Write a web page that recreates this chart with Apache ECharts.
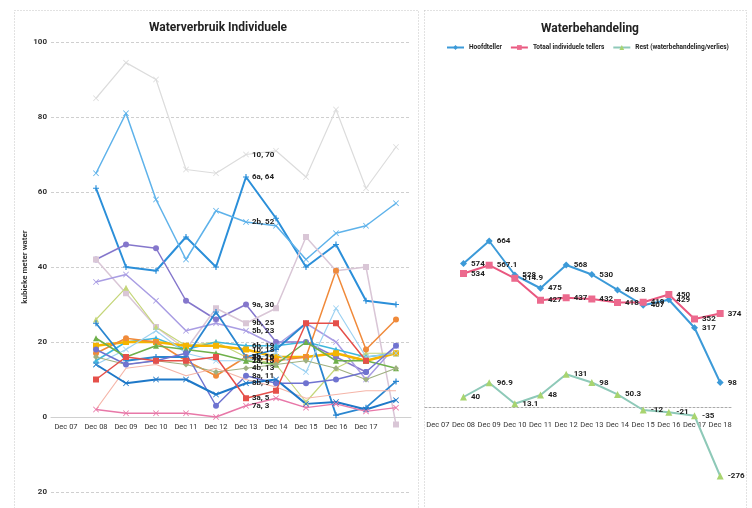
<!DOCTYPE html>
<html lang="nl">
<head>
<meta charset="UTF-8">
<title>Waterverbruik</title>
<script src="https://cdn.jsdelivr.net/npm/echarts@6/dist/echarts.min.js"></script>
<style>
  body { margin: 0; background: #fff; }
</style>
</head>
<body>
<div id="main" style="width:752px;height:508px;"></div>
<script>
// categorieen (Dec 07 .. Dec 18), meetwaarden beginnen bij Dec 08
var maanden = ['Dec 07', 'Dec 08', 'Dec 09', 'Dec 10', 'Dec 11', 'Dec 12', 'Dec 13', 'Dec 14', 'Dec 15', 'Dec 16', 'Dec 17', 'Dec 18'];

// individuele tellers (kubieke meter water), Dec 08 .. Dec 18
var tellerNamen = ['10', '6a', '2b', '9a', '9b', '5b', '7b', '6b', '1b', '5a', '4a', '2a', '1a', '4b', '8a', '3b', '8b', '3a', '7a'];
var t10 = [85, 94.5, 90, 66, 65, 70, 71, 64, 82, 61, 72];
var t6a = [61, 40, 39, 48, 40, 64, 53, 40, 46, 31, 30];
var t2b = [65, 81, 58, 42, 55, 52, 51, 42, 49, 51, 57];
var t9a = [42, 46, 45, 31, 26, 30, 20, 20, 16, 12, null];
var t9b = [42, 33, 24, 18, 29, 25, 29, 48, 39, 40, -2];
var t5b = [36, 38, 31, 23, 25, 23, 19, 25, 20, 10, 19];
var t7b = [26, 34.5, 24, 19, 20, 16, 14, 4, 13, 17, 17];
var t6b = [15, 20, 21, 18, 20, 19, 19, 20, 18, 16, 17];
var t1b = [19, 20, 20, 19, 19, 18, 16, 16, 17, 15, 17];
var t5a = [17, 21, 20, 15, 11, 16, 15, 16, 39, 18, 26];
var t4a = [25, 15, 16, 16, 28, 16, 18, 25, 0.5, 2.5, 9.5];
var t2a = [14, 18, 23, 17, 15, 15, 17, 12, 29, 16, 17];
var t1a = [21, 16, 19, 18, 17, 15, 14, 20, 15, 15, 13];
var t4b = [16, 14, 15, 14, 12, 13, 14, 15, 13, 10, 13];
var t8a = [18, 14, 15, 17, 3, 11, 9, 9, 10, 12, 19];
var t3b = [2, 13, 14, 11, 13, 10, 8, 5, 6, 7, 7];
var t8b = [14, 9, 10, 10, 6, 9, 10, 3.5, 4, 2, 4.5];
var t3a = [10, 16, 15, 15, 16, 5, 7, 25, 25, 15, null];
var t7a = [2, 1, 1, 1, 0, 3, 5, 2.5, 3.5, 1.5, 2.5];
var tellers = [t10, t6a, t2b, t9a, t9b, t5b, t7b, t6b, t1b, t5a, t4a, t2a, t1a, t4b, t8a, t3b, t8b, t3a, t7a];

// waterbehandeling, Dec 08 .. Dec 18
var hoofdteller = [574, 664, 528, 475, 568, 530, 468.3, 407, 429, 317, 98];
var totaalTellers = [534, 567.1, 514.9, 427, 437, 432, 418, 419, 450, 352, 374];
var rest = [40, 96.9, 13.1, 48, 131, 98, 50.3, -12, -21, -35, -276];

var yTicks = [-20, 0, 20, 40, 60, 80, 100];

var myChart = echarts.init(document.getElementById('main'));

var symPlus = 'path://M4,0H6V4H10V6H6V10H4V6H0V4H4Z';
var symX = 'path://M1,0L5,4L9,0L10,1L6,5L10,9L9,10L5,6L1,10L0,9L4,5L0,1Z';

// kleur, symbool, lijndikte per teller
var kleuren = ['#dcdcdc', '#2b8fd9', '#5eb2ea', '#8577cc', '#d9c6d6', '#a99de3', '#c5d67a', '#3fb7dd', '#f5b400', '#f08a3a',
    '#2a86d0', '#9dd2f2', '#6fb04a', '#9fb080', '#6f73d0', '#f5b5a8', '#1e78c8', '#e5504a', '#e878a8'];
var symbolen = [symX, symPlus, symX, 'circle', 'rect', symX, 'triangle', 'triangle', 'rect', 'circle',
    symPlus, symX, 'triangle', 'diamond', 'circle', 'none', symX, 'rect', symX];
var diktes = [1.2, 2, 1.5, 1.5, 1.5, 1.5, 1.2, 1.5, 2.5, 1.5, 1.8, 1.2, 1.5, 1.2, 1.5, 1.2, 2, 1.5, 1.5];

var font = 'Liberation Sans Narrow, Roboto, sans-serif';
var labelIndex = 6; // Dec 13

var series = [];
for (var i = 0; i < tellers.length; i++) {
    var d = [null];
    for (var j = 0; j < tellers[i].length; j++) {
        if (j + 1 === labelIndex) {
            d.push({value: tellers[i][j], label: {show: true}});
        } else {
            d.push(tellers[i][j]);
        }
    }
    series.push({
        name: tellerNamen[i],
        type: 'line',
        xAxisIndex: 0,
        yAxisIndex: 0,
        data: d,
        symbol: symbolen[i],
        symbolSize: 6,
        showAllSymbol: true,
        lineStyle: {width: diktes[i], color: kleuren[i]},
        itemStyle: {color: kleuren[i]},
        label: {
            show: false,
            position: 'right',
            distance: 3,
            fontSize: 8,
            fontWeight: 'bold',
            fontFamily: font,
            color: '#222',
            formatter: function (p) {
                return p.seriesName + ', ' + p.value;
            }
        },
        emphasis: {disabled: true}
    });
}

var rechtsLabel = {
    show: true,
    position: 'right',
    distance: 4,
    fontSize: 8,
    fontWeight: 'bold',
    fontFamily: font,
    color: '#222'
};

series.push({
    name: 'Hoofdteller',
    type: 'line',
    xAxisIndex: 1,
    yAxisIndex: 1,
    data: [null].concat(hoofdteller),
    symbol: 'diamond',
    symbolSize: 7,
    lineStyle: {width: 2, color: '#3c9ad8'},
    itemStyle: {color: '#3c9ad8'},
    label: rechtsLabel
});
series.push({
    name: 'Totaal individuele tellers',
    type: 'line',
    xAxisIndex: 1,
    yAxisIndex: 1,
    data: [null].concat(totaalTellers),
    symbol: 'rect',
    symbolSize: 7,
    lineStyle: {width: 2, color: '#e9577f'},
    itemStyle: {color: '#ec6a8e'},
    label: rechtsLabel
});
series.push({
    name: 'Rest (waterbehandeling/verlies)',
    type: 'line',
    xAxisIndex: 1,
    yAxisIndex: 1,
    data: [null].concat(rest),
    symbol: 'triangle',
    symbolSize: 7,
    lineStyle: {width: 2, color: '#8ec9b8'},
    itemStyle: {color: '#a8d46f'},
    label: rechtsLabel
});

var option = {
    animation: false,
    textStyle: {fontFamily: font},
    title: [
        {text: 'Waterverbruik Individuele', left: 213, top: 17, textAlign: 'center',
            textStyle: {fontSize: 12, fontWeight: 'bold', color: '#222', fontFamily: font}},
        {text: 'Waterbehandeling', left: 585, top: 18, textAlign: 'center',
            textStyle: {fontSize: 12, fontWeight: 'bold', color: '#222', fontFamily: font}}
    ],
    legend: {
        data: ['Hoofdteller', 'Totaal individuele tellers', 'Rest (waterbehandeling/verlies)'],
        left: 446,
        top: 44,
        width: 330,
        padding: 0,
        itemWidth: 17,
        itemHeight: 6,
        itemGap: 8,
        textStyle: {fontSize: 6.5, fontWeight: 'bold', color: '#222', fontFamily: font}
    },
    graphic: [
        {type: 'rect', shape: {x: 14.5, y: 10.5, width: 404, height: 520}, silent: true,
            style: {fill: 'none', stroke: '#c4c4c4', lineWidth: 1, lineDash: [1, 2]}},
        {type: 'rect', shape: {x: 424.5, y: 10.5, width: 322, height: 520}, silent: true,
            style: {fill: 'none', stroke: '#c4c4c4', lineWidth: 1, lineDash: [1, 2]}}
    ],
    grid: [
        {left: 51, right: 341, top: 42, bottom: 16, outerBoundsMode: 'none'},
        {left: 425, right: 19, top: 207, bottom: 1, outerBoundsMode: 'none'}
    ],
    xAxis: [
        {
            gridIndex: 0,
            type: 'category',
            data: maanden,
            boundaryGap: true,
            position: 'bottom',
            offset: -75,
            axisLine: {show: true, onZero: false, lineStyle: {color: '#d0d0d0'}},
            axisTick: {show: false},
            axisLabel: {
                fontSize: 7.5, color: '#333', margin: 6, fontFamily: font,
                interval: function (index) { return index < 11; }
            }
        },
        {
            gridIndex: 1,
            type: 'category',
            data: maanden,
            boundaryGap: true,
            position: 'bottom',
            offset: -100,
            axisLine: {show: true, onZero: false, lineStyle: {color: '#aaa', type: [2, 2]}},
            axisTick: {show: false},
            axisLabel: {fontSize: 7.5, color: '#333', margin: 14, interval: 0, fontFamily: font}
        }
    ],
    yAxis: [
        {
            gridIndex: 0,
            type: 'value',
            min: yTicks[0],
            max: yTicks[yTicks.length - 1],
            interval: 20,
            name: 'kubieke meter water',
            nameLocation: 'middle',
            nameGap: 22,
            nameTextStyle: {fontSize: 8, fontWeight: 'bold', color: '#333', fontFamily: font},
            axisLine: {show: false},
            axisTick: {show: false},
            axisLabel: {
                fontSize: 8, fontWeight: 'bold', color: '#333', margin: 4, fontFamily: font,
                formatter: function (v) { return String(Math.abs(v)); }
            },
            splitLine: {lineStyle: {color: '#cfcfcf', type: [3, 2]}}
        },
        {
            gridIndex: 1,
            type: 'value',
            min: -400,
            max: 800,
            interval: 400,
            show: false,
            splitLine: {show: false}
        }
    ],
    series: series
};

myChart.setOption(option);
</script>
</body>
</html>
